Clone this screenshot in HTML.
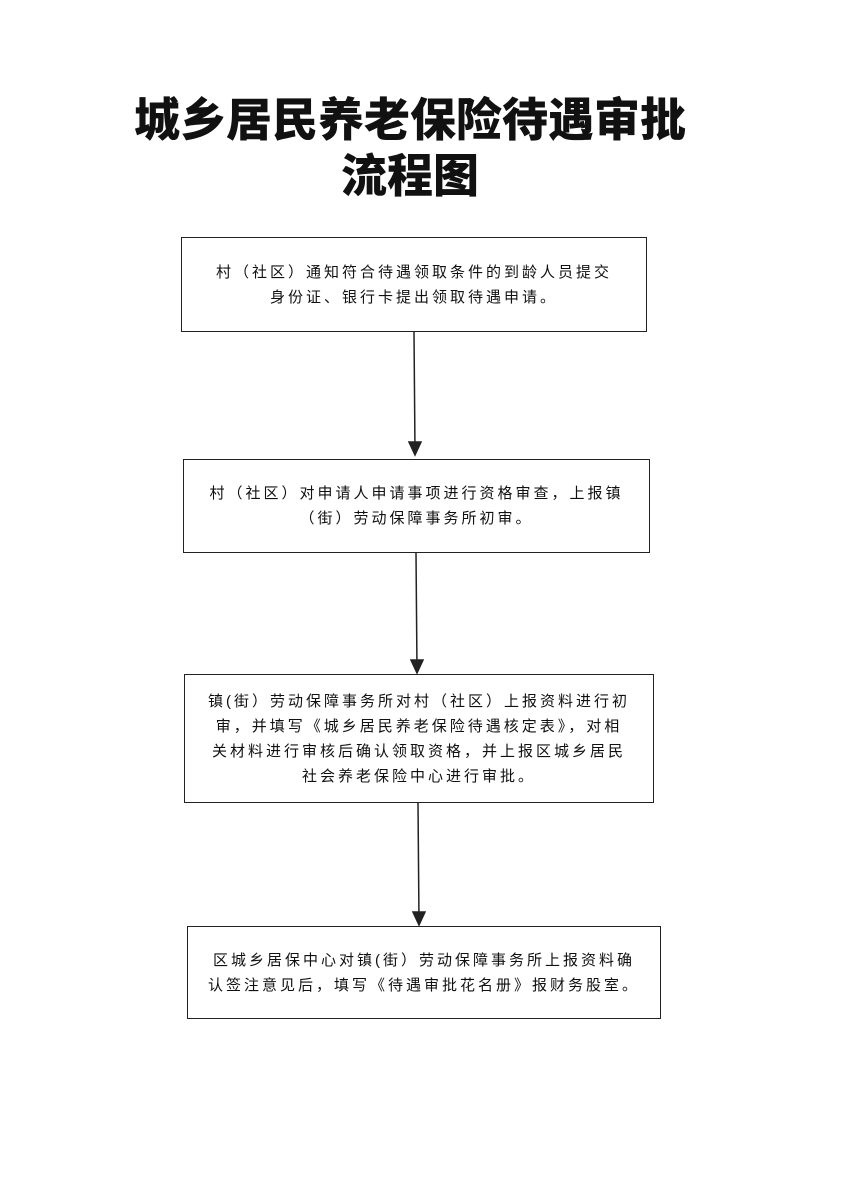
<!DOCTYPE html>
<html><head><meta charset="utf-8"><style>
body{margin:0;width:848px;height:1200px;background:#fff;position:relative;overflow:hidden;font-family:"Liberation Sans","Noto Sans CJK SC",sans-serif;color:#111}
.t{position:absolute;left:0;width:820px;text-align:center;font-weight:900;font-size:46px;letter-spacing:0px;line-height:56px}
.b{position:absolute;border:1.5px solid #222;box-sizing:border-box;display:flex;align-items:center;justify-content:center;text-align:center;font-size:15px;letter-spacing:3px;line-height:25px;padding:0 8px}
</style></head><body>
<div class="t" style="top:92px">城乡居民养老保险待遇审批</div>
<div class="t" style="top:148px">流程图</div>
<div class="b" style="left:181px;top:237px;width:466px;height:95px">村（社区）通知符合待遇领取条件的到龄人员提交<br>身份证、银行卡提出领取待遇申请。</div>
<div class="b" style="left:183px;top:459px;width:467px;height:94px">村（社区）对申请人申请事项进行资格审查，上报镇<br>（街）劳动保障事务所初审。</div>
<div class="b" style="left:184px;top:674px;width:470px;height:129px">镇(街）劳动保障事务所对村（社区）上报资料进行初<br>审，并填写《城乡居民养老保险待遇核定表》，对相<br>关材料进行审核后确认领取资格，并上报区城乡居民<br>社会养老保险中心进行审批。</div>
<div class="b" style="left:187px;top:926px;width:474px;height:93px">区城乡居保中心对镇(街）劳动保障事务所上报资料确<br>认签注意见后，填写《待遇审批花名册》报财务股室。</div>
<svg width="848" height="1200" style="position:absolute;left:0;top:0">
<g stroke="#222" stroke-width="1.5" fill="#222">
<line x1="414" y1="332" x2="415" y2="452"/><polygon points="409,442 415,455 421,442"/>
<line x1="416" y1="553" x2="417" y2="670"/><polygon points="411,660 417,673 423,660"/>
<line x1="418" y1="803" x2="419" y2="922"/><polygon points="413,912 419,925 425,912"/>
</g></svg>
</body></html>
